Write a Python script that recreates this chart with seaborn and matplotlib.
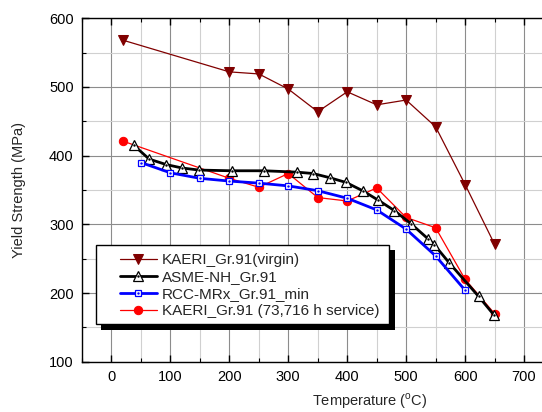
import matplotlib
matplotlib.use("Agg")
import matplotlib.pyplot as plt
import seaborn as sns
from matplotlib.patches import Rectangle
from matplotlib.legend_handler import HandlerTuple
from matplotlib.ticker import MultipleLocator

# ---- data ----
virgin_T = [20, 200, 250, 300, 350, 400, 450, 500, 550, 600, 650]
virgin_Y = [568, 522, 519, 497, 464, 493, 474, 481, 442, 358, 271]

asme_T = [38, 64, 93, 120, 149, 204, 259, 315, 342, 370, 398, 426, 453, 480, 508, 537, 548, 573, 623, 649]
asme_Y = [415, 395, 387, 382, 379, 378, 378, 376, 374, 368, 361, 349, 335, 320, 301, 279, 270, 244, 195, 168]

rcc_T = [50, 100, 150, 200, 250, 300, 350, 400, 450, 500, 550, 600]
rcc_Y = [390, 375, 367, 363, 360, 356, 349, 338, 321, 293, 254, 204]

serv_T = [20, 200, 250, 300, 350, 400, 450, 500, 550, 600, 650]
serv_Y = [421, 367, 354, 374, 339, 334, 353, 310, 295, 220, 170]

labels = ["KAERI_Gr.91(virgin)", "ASME-NH_Gr.91", "RCC-MRx_Gr.91_min",
          "KAERI_Gr.91 (73,716 h service)"]
x_ticks = [0, 100, 200, 300, 400, 500, 600, 700]
y_ticks = [100, 200, 300, 400, 500, 600]

sns.set_style("white")
plt.rcParams['font.family'] = ['Liberation Sans', 'DejaVu Sans']
plt.rcParams['mathtext.fontset'] = 'custom'
plt.rcParams['mathtext.rm'] = 'Liberation Sans'

W, H = 542, 412
fig = plt.figure(figsize=(W / 100, H / 100), dpi=100)
ax = fig.add_axes([82 / W, 1 - 361.7 / H, (553.5 - 82) / W, (361.7 - 18.3) / H])

# series
sns.lineplot(x=serv_T, y=serv_Y, ax=ax, color='#FF0000', linewidth=0.9,
             marker='o', markersize=6, markeredgecolor='#FF0000',
             markerfacecolor='#FF0000', legend=False, zorder=3)
sns.lineplot(x=virgin_T, y=virgin_Y, ax=ax, color='#800000', linewidth=0.9,
             marker='v', markersize=7, markeredgecolor='#800000',
             markerfacecolor='#800000', legend=False, zorder=3)
sns.lineplot(x=asme_T, y=asme_Y, ax=ax, color='black', linewidth=2.0,
             marker='^', markersize=6.5, markeredgecolor='black',
             markerfacecolor='white', markeredgewidth=0.9, legend=False, zorder=4)
ax.plot(asme_T, asme_Y, linestyle='none', marker='.', markersize=1.5,
        color='black', zorder=4.1)
sns.lineplot(x=rcc_T, y=rcc_Y, ax=ax, color='#0000FF', linewidth=2.0,
             marker='s', markersize=5, markeredgecolor='#0000FF',
             markerfacecolor='white', markeredgewidth=0.9, legend=False, zorder=4.2)
ax.plot(rcc_T, rcc_Y, linestyle='none', marker='.', markersize=1.5,
        color='#0000FF', zorder=4.3)

lines = ax.get_lines()
serv_l, virg_l, asme_l, asme_d, rcc_l, rcc_d = lines[:6]

ax.set_xlim(-50, 750)
ax.set_ylim(100, 600)
ax.set_xticks(x_ticks)
ax.set_yticks(y_ticks)
ax.xaxis.set_minor_locator(MultipleLocator(50))
ax.yaxis.set_minor_locator(MultipleLocator(50))

ax.grid(True, which='major', color='#8c8c8c', linewidth=0.8)
ax.grid(True, which='minor', color='#d0d0d0', linewidth=0.8)
ax.set_axisbelow(True)

ax.tick_params(which='both', direction='in', top=True, bottom=True, left=True,
               right=False, colors='black', labelsize=10.5)
ax.tick_params(which='major', length=5, width=1, pad=6)
ax.tick_params(which='minor', length=3, width=0.8)
for s in ['left', 'bottom', 'top']:
    ax.spines[s].set_linewidth(1.0)
    ax.spines[s].set_color('black')
ax.spines['right'].set_visible(False)

ax.set_xlabel(r'Temperature ($^{\mathrm{o}}$C)', fontsize=10.5)
ax.set_ylabel('Yield Strength (MPa)', fontsize=10.5)
ax.xaxis.set_label_coords((370 - 82) / 471.5, -(391 - 361.7) / 343.4)
ax.yaxis.set_label_coords(-(82 - 26) / 471.5, 0.5)

# legend frame + shadow drawn manually
ax_l, ax_w = 82, 471.5
ax_t, ax_h = 18.3, 343.4
def to_ax(px, py):
    return ((px - ax_l) / ax_w, 1 - (py - ax_t) / ax_h)

x0, y0 = to_ax(95.7, 324.3)
x1, y1 = to_ax(389, 245)
sx0, sy0 = to_ax(100.5, 329.5)
sx1, sy1 = to_ax(394.5, 250)
ax.add_patch(Rectangle((sx0, sy0), sx1 - sx0, sy1 - sy0, transform=ax.transAxes,
                       facecolor='black', edgecolor='none', zorder=6))
ax.add_patch(Rectangle((x0, y0), x1 - x0, y1 - y0, transform=ax.transAxes,
                       facecolor='white', edgecolor='black', linewidth=1.0, zorder=6.1))

lx, ly = to_ax(120, 253)
leg = ax.legend([virg_l, (asme_l, asme_d), (rcc_l, rcc_d), serv_l], labels,
                handler_map={tuple: HandlerTuple(ndivide=1)},
                loc='upper left', bbox_to_anchor=(lx, ly), borderaxespad=0,
                borderpad=0, frameon=False, fontsize=11, handlelength=2.4,
                handletextpad=0.35, labelspacing=0.2)
leg.set_zorder(7)

fig.savefig('out.png', dpi=100)
